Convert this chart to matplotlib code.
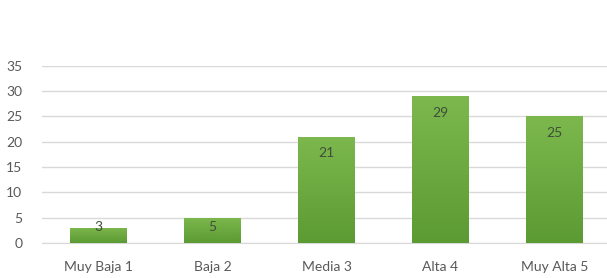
import numpy as np
import matplotlib
matplotlib.use("Agg")
import matplotlib.pyplot as plt

# datos del gráfico
categorias = ["Muy Baja 1", "Baja 2", "Media 3", "Alta 4", "Muy Alta 5"]
valores = [3, 5, 21, 29, 25]
y_ticks = [0, 5, 10, 15, 20, 25, 30, 35]

plt.rcParams['font.family'] = ['Lato', 'DejaVu Sans']

fig = plt.figure(figsize=(6.07, 2.78), dpi=100)
ax = fig.add_axes([0.069, 0.126, 0.938, 0.637])

x = np.arange(len(categorias))
bars = ax.bar(x, valores, width=0.5, color="#6aaa3c", zorder=2)

# degradado vertical en cada barra (claro arriba, oscuro abajo)
grad = np.linspace(0, 1, 256).reshape(-1, 1)
cmap = matplotlib.colors.LinearSegmentedColormap.from_list("g", ["#5c9a33", "#7cb84d"])
for b in bars:
    x0, w, h = b.get_x(), b.get_width(), b.get_height()
    im = ax.imshow(grad, cmap=cmap, aspect="auto", origin="lower",
                   extent=[x0, x0 + w, 0, h], zorder=3)
    im.set_clip_path(b)

for xi, v in zip(x, valores):
    ax.text(xi, max(v - 3.3, 3.2), str(v), ha="center", va="center",
            fontsize=10, color="#3f4f3a", zorder=4)

ax.set_xlim(-0.5, len(categorias) - 0.5)
ax.set_ylim(0, 35)
ax.set_yticks(y_ticks)
ax.set_xticks(x)
ax.set_xticklabels(categorias)
ax.tick_params(axis="both", length=0, labelsize=10, labelcolor="#595959")
ax.tick_params(axis="y", pad=14)
ax.tick_params(axis="x", pad=13)
ax.grid(axis="y", color="#d9d9d9", linewidth=1, zorder=0)
for s in ["top", "right", "left"]:
    ax.spines[s].set_visible(False)
ax.spines["bottom"].set_color("#d9d9d9")

fig.savefig("out.png", dpi=100)
